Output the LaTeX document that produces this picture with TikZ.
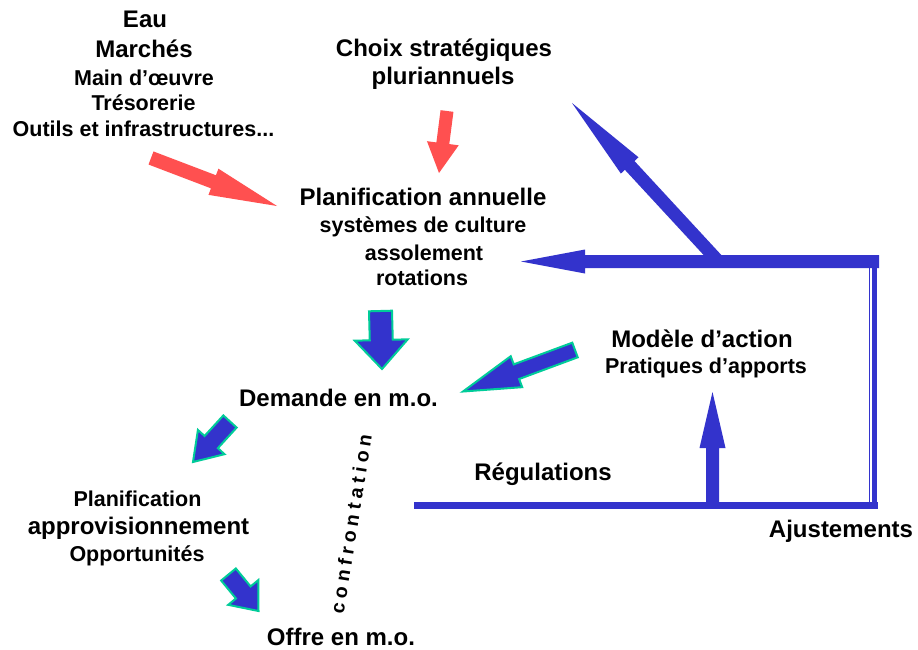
\documentclass[tikz,border=0pt]{standalone}
\usepackage{fontspec}
\setmainfont{Liberation Sans}
\usetikzlibrary{calc}
\definecolor{abl}{RGB}{51,51,204}
\definecolor{ateal}{RGB}{0,204,153}
\definecolor{ared}{RGB}{255,80,80}
% #1 style, #2 tail, #3 tip, #4 shaft half-width, #5 head half-width, #6 head length
\newcommand\blockarrow[6]{%
  \coordinate (ba-h) at ($(#3)!#6!(#2)$);
  \path[#1] ($(#2)!#4!90:(#3)$) -- ($(ba-h)!#4!90:(#3)$) -- ($(ba-h)!#5!90:(#3)$)
    -- (#3) -- ($(ba-h)!#5!-90:(#3)$) -- ($(ba-h)!#4!-90:(#3)$) -- ($(#2)!#4!-90:(#3)$) -- cycle;}
\newcommand\lsp{\kern4.6pt}
\begin{document}
\begin{tikzpicture}[x=1pt,y=-1pt,
  big/.style={font=\fontsize{24}{28}\selectfont\bfseries, anchor=base, inner sep=0pt},
  sml/.style={font=\fontsize{21.5}{26}\selectfont\bfseries, anchor=base, inner sep=0pt},
  redarrow/.style={fill=ared},
  bluearrow/.style={fill=abl, draw=ateal, line width=2pt, line join=miter},
  bluebar/.style={fill=abl}]
\useasboundingbox[fill=white] (0,0) rectangle (918,650);

% texts
\node[big] (eau) at (145,28) {Eau};
\node[big] (marches) at (144,58) {Marchés};
\node[sml] (mainoeuvre) at (144,86) {Main d’œuvre};
\node[sml] (tresorerie) at (143.5,111) {Trésorerie};
\node[sml] (outils) at (143.5,136) {Outils et infrastructures...};
\node[big] (choix) at (444,57) {Choix stratégiques};
\node[big] (pluri) at (443,85) {pluriannuels};
\node[big] (planan) at (423,205) {Planification annuelle};
\node[sml] (syst) at (423,232) {systèmes de culture};
\node[sml] (assol) at (424,260) {assolement};
\node[sml] (rot) at (422,285) {rotations};
\node[big] (modele) at (702,347) {Modèle d’action};
\node[sml] (prat) at (706,373) {Pratiques d’apports};
\node[big] (demande) at (338.5,406) {Demande en m.o.};
\node[big] (regul) at (543,480) {Régulations};
\node[big] (ajust) at (841,537) {Ajustements};
\node[sml] (planif) at (137.5,506) {Planification};
\node[big] (approv) at (138.5,534) {approvisionnement};
\node[sml] (opport) at (137,561) {Opportunités};
\node[big] (offre) at (341,645) {Offre en m.o.};
\node[rotate=81, font=\fontsize{19.5}{22}\selectfont\bfseries, inner sep=0pt] (confr) at (351,524)
  {c\lsp o\lsp n\lsp f\lsp r\lsp o\lsp n\lsp t\lsp a\lsp t\lsp i\lsp o\lsp n};

% arrow end points
\coordinate (r1a) at (151,158); \coordinate (r1b) at (277,206);
\coordinate (r2a) at (447,111); \coordinate (r2b) at (439,173);
\coordinate (b3a) at (380.5,311); \coordinate (b3b) at (382,369);
\coordinate (b4a) at (575,350); \coordinate (b4b) at (463,391.5);
\coordinate (b5a) at (230,421.5); \coordinate (b5b) at (193,462);
\coordinate (b6a) at (228.5,574.5); \coordinate (b6b) at (258.5,611);
\coordinate (topR) at (879,261.5); \coordinate (topL) at (521,261.5);
\coordinate (junc) at (718,261); \coordinate (diagTip) at (572,103);
\coordinate (botL) at (414,505.5); \coordinate (botR) at (878,505.5);
\coordinate (upA) at (712.5,505); \coordinate (upB) at (712.5,392);

% red arrows
\blockarrow{redarrow}{r1a}{r1b}{7pt}{14pt}{68pt}
\blockarrow{redarrow}{r2a}{r2b}{6.5pt}{16pt}{30pt}

% blue outlined arrows
\blockarrow{bluearrow}{b3a}{b3b}{11.5pt}{26.5pt}{29pt}
\blockarrow{bluearrow}{b4a}{b4b}{7.8pt}{16.5pt}{57pt}
\blockarrow{bluearrow}{b5a}{b5b}{9pt}{18pt}{27pt}
\blockarrow{bluearrow}{b6a}{b6b}{9.5pt}{19.5pt}{24pt}

% feedback loop
\blockarrow{bluebar}{junc}{diagTip}{6.5pt}{12pt}{85pt}
\blockarrow{bluebar}{topR}{topL}{6.5pt}{12pt}{64pt}
\draw[abl, line width=7pt] (botL) -- (botR);
\draw[abl, line width=5pt] ($(topR)+(-4.5,0)$) -- ($(botR)+(-3.5,0)$);
\draw[abl, line width=1.2pt] ($(topR)+(-9.5,0)$) -- ($(botR)+(-8.5,0)$);
\blockarrow{bluebar}{upA}{upB}{6.5pt}{13pt}{56pt}
\end{tikzpicture}
\end{document}
